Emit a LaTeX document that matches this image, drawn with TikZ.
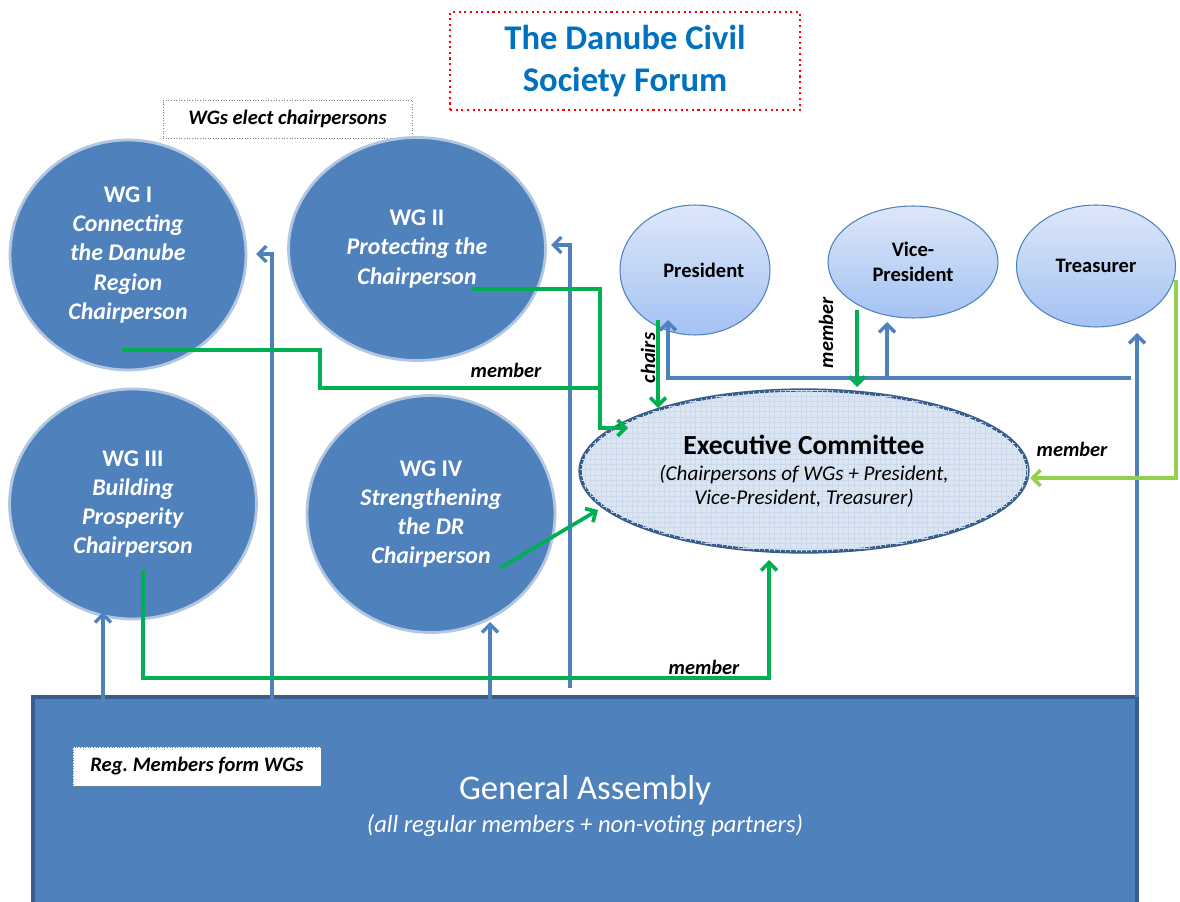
\documentclass[tikz,border=0pt]{standalone}
\usepackage{fontspec}
\setmainfont{Carlito}
\usetikzlibrary{arrows.meta,shapes.geometric,patterns}
\definecolor{wgblue}{HTML}{4F81BD}
\definecolor{darkblue}{HTML}{385D8A}
\definecolor{titleblue}{HTML}{0070C0}
\definecolor{grn}{HTML}{00B050}
\definecolor{lgrn}{HTML}{92D050}
\definecolor{ptop}{HTML}{DDE7F8}
\definecolor{pbot}{HTML}{A4C2F4}
\definecolor{ecfill}{HTML}{DCE6F2}
\definecolor{ecgrid}{HTML}{CCDAEE}
\begin{document}
\begin{tikzpicture}[x=0.02cm,y=-0.02cm,
  wg/.style={ellipse, fill=wgblue, draw=wgblue!45!white, line width=1.6pt, text=white,
    font=\fontsize{13.6}{16.6}\selectfont\bfseries, align=center, inner sep=0pt},
  officer/.style={ellipse, top color=ptop, bottom color=pbot, draw=wgblue, line width=0.6pt,
    font=\fontsize{11.7}{14.2}\selectfont\bfseries, align=center, inner sep=0pt},
  tip/.style={-{Straight Barb[length=4.5pt,width=9pt]}},
  blueline/.style={draw=wgblue, line width=2pt},
  greenline/.style={draw=grn, line width=2.1pt},
  lbl/.style={font=\fontsize{11.6}{14}\selectfont\bfseries\itshape, inner sep=0pt},
  notebox/.style={draw=gray, densely dotted, line width=0.5pt, fill=white,
    font=\fontsize{11.7}{14}\selectfont\bfseries\itshape, inner sep=0pt}
]
\useasboundingbox (0,0) rectangle (1180,902);

% title
\node[draw=red, dotted, line width=1.2pt, minimum width=7cm, minimum height=1.96cm,
  text=titleblue, align=center, font=\fontsize{19.7}{23.8}\selectfont\bfseries] (title) at (625,61)
  {The Danube Civil\\Society Forum};

\node[notebox, minimum width=4.98cm, minimum height=0.76cm] (elect) at (287.5,119) {WGs elect chairpersons};

% working groups
\node[wg, minimum width=4.72cm, minimum height=4.6cm] (wg1) at (128,255)
  {WG I\\\textit{Connecting}\\\textit{the Danube}\\\textit{Region}\\\textit{Chairperson}};
\node[wg, minimum width=5.14cm, minimum height=4.46cm] (wg2) at (417,249)
  {WG II\\\textit{Protecting the}\\\textit{Chairperson}};
\node[wg, minimum width=4.94cm, minimum height=4.6cm] (wg3) at (133,504)
  {WG III\\\textit{Building}\\\textit{Prosperity}\\\textit{Chairperson}};
\node[wg, minimum width=4.96cm, minimum height=4.74cm] (wg4) at (431,514)
  {WG IV\\\textit{Strengthening}\\\textit{the DR}\\\textit{Chairperson}};

% officers
\node[officer, minimum width=3cm, minimum height=2.6cm] (pres) at (695,270) {\hspace*{10pt}President};
\node[officer, minimum width=3.4cm, minimum height=2.24cm] (vice) at (913,262) {Vice-\\President};
\node[officer, minimum width=3.18cm, minimum height=2.44cm] (treas) at (1096,266) {Treasurer};

% executive committee
\node[ellipse, fill=ecfill, postaction={pattern=grid, pattern color=ecgrid},
  draw=darkblue, line width=1.9pt, minimum width=8.96cm, minimum height=3.24cm,
  align=center, inner sep=0pt] (ec) at (804,471)
  {\fontsize{15.7}{19}\selectfont\bfseries Executive Committee\\[3pt]
   \fontsize{12}{14.4}\selectfont\itshape (Chairpersons of WGs + President,\\[1.5pt]
   \fontsize{12}{14.4}\selectfont\itshape Vice-President, Treasurer)};

% general assembly
\path[fill=wgblue, draw=darkblue, line width=1.8pt] (33,697) rectangle (1137,915);
\node[text=white, font=\fontsize{19.7}{24}\selectfont, inner sep=0pt] (gat) at (585,790) {General Assembly};
\node[text=white, font=\fontsize{14}{16}\selectfont\itshape, inner sep=0pt] (gas) at (585,826)
  {(all regular members + non-voting partners)};

% blue connectors
\coordinate (b1a) at (103,705);  \coordinate (b1b) at (103,612);
\coordinate (b2a) at (272,700);  \coordinate (b2b) at (272,254); \coordinate (b2c) at (256,254);
\coordinate (b3a) at (570,688);  \coordinate (b3b) at (570,245); \coordinate (b3c) at (551,245);
\coordinate (b4a) at (490,715);  \coordinate (b4b) at (490,622);
\coordinate (b5a) at (1137,697); \coordinate (b5b) at (1137,333);
\coordinate (h1) at (1131,378); \coordinate (h2) at (668,378); \coordinate (h3) at (668,320);
\coordinate (h4) at (887,378); \coordinate (h5) at (887,322);
\draw[blueline, tip] (b1a) -- (b1b);
\draw[blueline, tip] (b2a) -- (b2b) -- (b2c);
\draw[blueline, tip] (b3a) -- (b3b) -- (b3c);
\draw[blueline, tip] (b4a) -- (b4b);
\draw[blueline, tip] (b5a) -- (b5b);
\draw[blueline, tip] (h1) -- (h2) -- (h3);
\draw[blueline, tip] (h4) -- (h5);

% green connectors
\coordinate (g1a) at (122,350); \coordinate (g1b) at (320,350); \coordinate (g1c) at (320,388); \coordinate (g1d) at (600,388);
\coordinate (g2a) at (472,289); \coordinate (g2b) at (600,289); \coordinate (g2c) at (600,428); \coordinate (g2d) at (628,428);
\coordinate (g3a) at (658,320); \coordinate (g3b) at (658,408);
\coordinate (g4a) at (857,310); \coordinate (g4b) at (857,387);
\coordinate (g5a) at (500,568); \coordinate (g5b) at (598,510);
\coordinate (g6a) at (143,570); \coordinate (g6b) at (143,678); \coordinate (g6c) at (769,678); \coordinate (g6d) at (769,560);
\coordinate (g7a) at (1176,280); \coordinate (g7b) at (1176,478); \coordinate (g7c) at (1030,478);
\draw[greenline] (g1a) -- (g1b) -- (g1c) -- (g1d);
\draw[greenline, tip] (g2a) -- (g2b) -- (g2c) -- (g2d);
\draw[greenline, tip] (g3a) -- (g3b);
\draw[greenline, tip] (g4a) -- (g4b);
\draw[greenline, tip] (g5a) -- (g5b);
\draw[greenline, tip] (g6a) -- (g6b) -- (g6c) -- (g6d);
\draw[draw=lgrn, line width=2.1pt, tip] (g7a) -- (g7b) -- (g7c);

% labels
\node[lbl] (m1) at (506,370) {member};
\node[lbl, rotate=90] (ch) at (648,358) {chairs};
\node[lbl, rotate=90] (m2) at (826,333) {member};
\node[lbl] (m3) at (704,667) {member};
\node[lbl] (m4) at (1072,449) {member};

\node[notebox, minimum width=4.96cm, minimum height=0.78cm] (reg) at (197,766.5) {Reg.\ Members form WGs};
\end{tikzpicture}
\end{document}
